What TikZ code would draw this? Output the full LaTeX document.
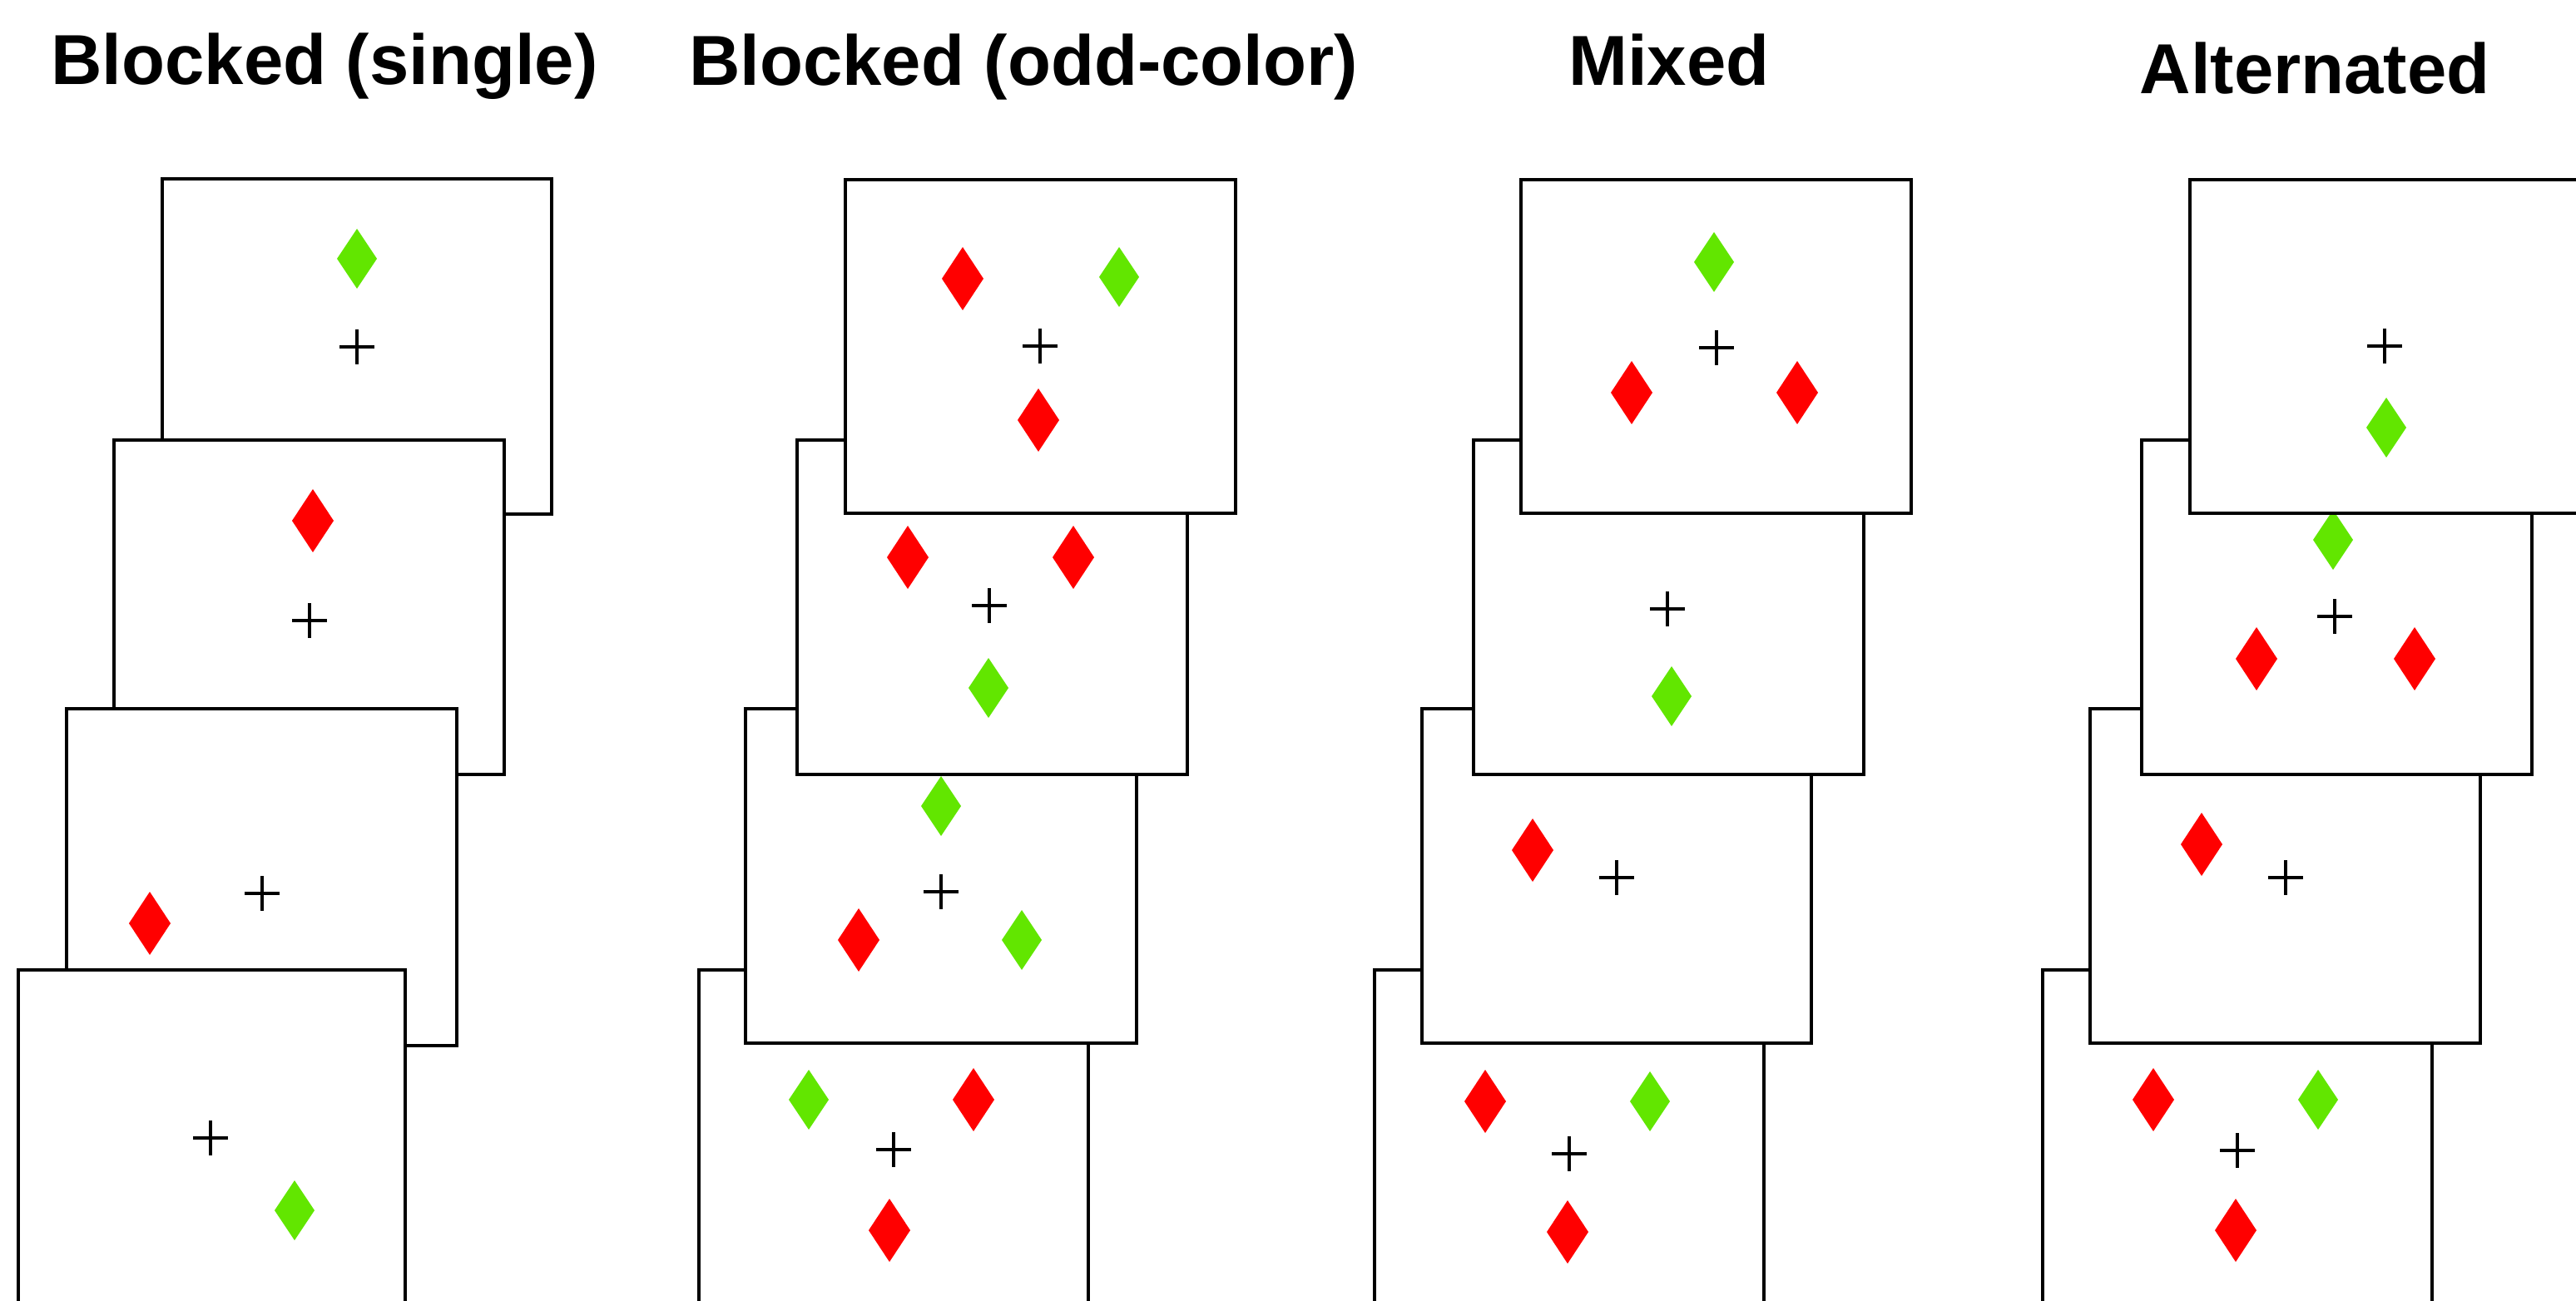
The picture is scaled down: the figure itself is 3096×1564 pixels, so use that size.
\documentclass[tikz,border=0pt]{standalone}
\usepackage{fontspec}
\setmainfont{Liberation Sans}
\definecolor{dred}{RGB}{255,0,0}
\definecolor{dgreen}{RGB}{98,230,0}
\tikzset{
  frame/.style={draw=black, line width=1.1pt, fill=white},
  rdia/.pic={\fill[dred] (-25,0) -- (0,-38) -- (25,0) -- (0,38) -- cycle;},
  gdia/.pic={\fill[dgreen] (-24,0) -- (0,-36) -- (24,0) -- (0,36) -- cycle;},
  fixcross/.pic={\draw[line width=1pt] (-21,0) -- (21,0) (0,-21) -- (0,21);},
  title/.style={font=\bfseries\fontsize{24.2}{30}\selectfont, anchor=base, inner sep=0pt}
}
\begin{document}
\begin{tikzpicture}[x=0.01cm, y=-0.01cm]
\useasboundingbox (0,0) rectangle (3096,1564);
\clip (0,0) rectangle (3096,1564);
\fill[white] (0,0) rectangle (3096,1564);

% titles
\node[title] (t1) at (390,102) {Blocked (single)};
\node[title] (t2) at (1230,103) {Blocked (odd-color)};
\node[title] (t3) at (2006,103) {Mixed};
\node[title] (t4) at (2782,113) {Alternated};

% ---------- Column A: Blocked (single), lower frames in front
\draw[frame] (195,215) rectangle (663,618);
\pic at (429,311) {gdia};
\pic at (429,417) {fixcross};

\draw[frame] (137,529) rectangle (606,931);
\pic at (376,626) {rdia};
\pic at (372,746) {fixcross};

\draw[frame] (80,852) rectangle (549,1257);
\pic at (180,1110) {rdia};
\pic at (315,1074) {fixcross};

\draw[frame] (22,1166) rectangle (487,1570);
\pic at (253,1368) {fixcross};
\pic at (354,1455) {gdia};

% ---------- Column B: Blocked (odd-color), upper frames in front
\draw[frame] (840,1166) rectangle (1308,1570);
\pic at (972,1322) {gdia};
\pic at (1170,1322) {rdia};
\pic at (1074,1382) {fixcross};
\pic at (1069,1479) {rdia};

\draw[frame] (896,852) rectangle (1366,1254);
\pic at (1131,969) {gdia};
\pic at (1131,1072) {fixcross};
\pic at (1032,1130) {rdia};
\pic at (1228,1130) {gdia};

\draw[frame] (958,529) rectangle (1427,931);
\pic at (1091,670) {rdia};
\pic at (1290,670) {rdia};
\pic at (1189,728) {fixcross};
\pic at (1188,827) {gdia};

\draw[frame] (1016,216) rectangle (1485,617);
\pic at (1157,335) {rdia};
\pic at (1345,333) {gdia};
\pic at (1250,416) {fixcross};
\pic at (1248,505) {rdia};

% ---------- Column C: Mixed
\draw[frame] (1652,1166) rectangle (2120,1570);
\pic at (1785,1324) {rdia};
\pic at (1983,1324) {gdia};
\pic at (1886,1387) {fixcross};
\pic at (1884,1481) {rdia};

\draw[frame] (1709,852) rectangle (2177,1254);
\pic at (1842,1022) {rdia};
\pic at (1943,1055) {fixcross};

\draw[frame] (1771,529) rectangle (2240,931);
\pic at (2004,732) {fixcross};
\pic at (2009,837) {gdia};

\draw[frame] (1828,216) rectangle (2297,617);
\pic at (2060,315) {gdia};
\pic at (2063,418) {fixcross};
\pic at (1961,472) {rdia};
\pic at (2160,472) {rdia};

% ---------- Column D: Alternated
\draw[frame] (2455,1166) rectangle (2923,1570);
\pic at (2588,1322) {rdia};
\pic at (2786,1322) {gdia};
\pic at (2689,1383) {fixcross};
\pic at (2687,1479) {rdia};

\draw[frame] (2512,852) rectangle (2981,1254);
\pic at (2646,1015) {rdia};
\pic at (2747,1055) {fixcross};

\draw[frame] (2574,529) rectangle (3043,931);
\pic at (2804,649) {gdia};
\pic at (2806,741) {fixcross};
\pic at (2712,792) {rdia};
\pic at (2902,792) {rdia};

\draw[frame] (2632,216) rectangle (3102,617);
\pic at (2866,416) {fixcross};
\pic at (2868,514) {gdia};
\end{tikzpicture}
\end{document}
